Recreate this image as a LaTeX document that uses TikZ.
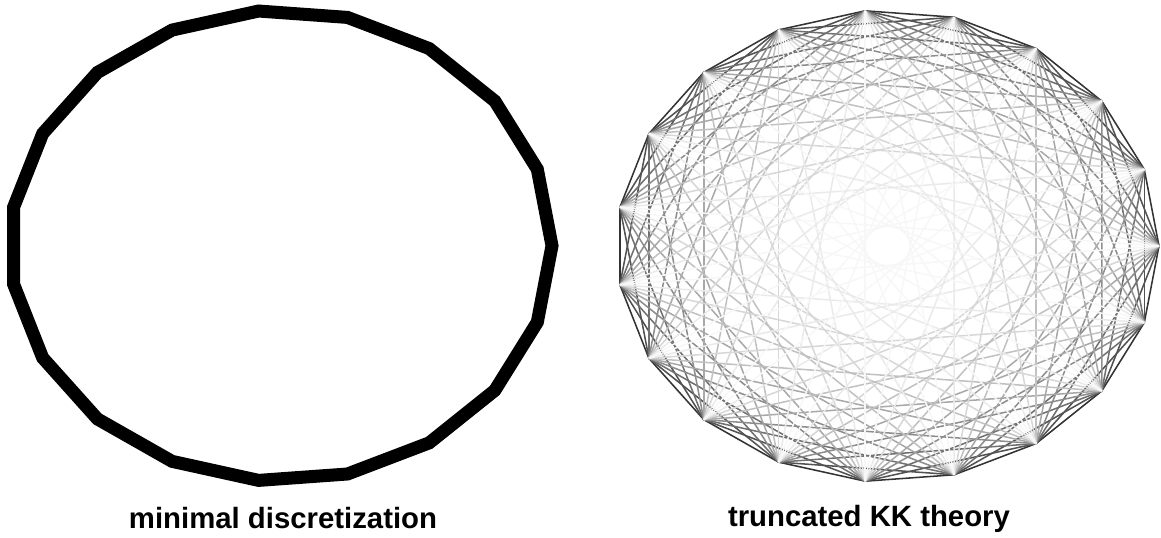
\documentclass[tikz,border=0pt]{standalone}
\usepackage{fontspec}
\setmainfont{Liberation Sans}

\tikzset{
    ring/.style={line width=9.75pt, black},
    chord/.style={line width=1.15pt},
    caption/.style={font=\bfseries\fontsize{22}{24}\selectfont}
}

\begin{document}
\begin{tikzpicture}[x=0.75pt, y=-0.75pt]
    \useasboundingbox (0,0) rectangle (1161,537);

    % corners of the two 19-gons
    \foreach \i in {0,...,18} {
        \coordinate (L\i) at ({281+271*cos(\i*360/19)}, {245.7-235.5*sin(\i*360/19)});
        \coordinate (R\i) at ({887.6+271.4*cos(\i*360/19)}, {246-236*sin(\i*360/19)});
    }

    % left: the bare polygon
    \draw[ring] (L0) \foreach \i in {1,...,18} {-- (L\i)} -- cycle;

    % right: every pair of corners, longer chords lighter
    \foreach \k in {1,...,9} {
        \pgfmathsetmacro\shade{3+77*((9-\k)/8)^1.3}
        \foreach \i in {0,...,18} {
            \pgfmathtruncatemacro\j{mod(\i+\k,19)}
            \draw[chord, black!\shade] (R\i) -- (R\j);
        }
    }

    \node[caption] (minimal) at (283,518.5) {minimal discretization};
    \node[caption] (truncated) at (869,518.5) {truncated KK theory};
\end{tikzpicture}
\end{document}
